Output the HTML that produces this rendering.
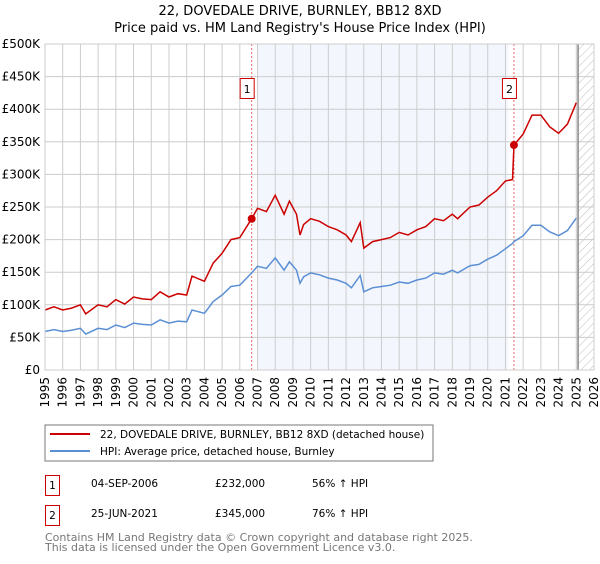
<!DOCTYPE html>
<html><head><meta charset="utf-8"><style>
body{margin:0;background:#fff;font-family:"DejaVu Sans","Liberation Sans",sans-serif;}
svg text{font-family:"DejaVu Sans","Liberation Sans",sans-serif;}
</style></head><body>
<svg id="chart" width="600" height="560" xmlns="http://www.w3.org/2000/svg">
<defs><pattern id="hatch" width="6" height="6" patternUnits="userSpaceOnUse" patternTransform="rotate(45)"><line x1="0" y1="0" x2="0" y2="6" stroke="#bbb" stroke-width="1"/></pattern></defs>
<text x="300" y="15" text-anchor="middle" font-size="13" fill="#000">22, DOVEDALE DRIVE, BURNLEY, BB12 8XD</text>
<text x="300" y="32" text-anchor="middle" font-size="13" fill="#000">Price paid vs. HM Land Registry's House Price Index (HPI)</text>
<g id="plot"></g>
<rect x="45" y="425" width="388" height="36" fill="#fff" stroke="#777"/>
<line x1="50" y1="434" x2="90" y2="434" stroke="#cc0000" stroke-width="2"/>
<text x="100" y="438" font-size="10.5">22, DOVEDALE DRIVE, BURNLEY, BB12 8XD (detached house)</text>
<line x1="50" y1="451" x2="90" y2="451" stroke="#5b8fd4" stroke-width="2"/>
<text x="100" y="455" font-size="10.5">HPI: Average price, detached house, Burnley</text>
<g>
<rect x="45.5" y="475.5" width="14" height="20" fill="#fff" stroke="#cc0000"/>
<text x="52.5" y="489" font-size="10.5" text-anchor="middle">1</text>
<text x="91" y="487" font-size="10.5">04-SEP-2006</text>
<text x="215" y="487" font-size="10.5">£232,000</text>
<text x="312" y="487" font-size="10.5">56% ↑ HPI</text></g>
<g>
<rect x="45.5" y="505.5" width="14" height="20" fill="#fff" stroke="#cc0000"/>
<text x="52.5" y="519" font-size="10.5" text-anchor="middle">2</text>
<text x="91" y="517" font-size="10.5">25-JUN-2021</text>
<text x="215" y="517" font-size="10.5">£345,000</text>
<text x="312" y="517" font-size="10.5">76% ↑ HPI</text></g>
<text x="45" y="541" font-size="11" fill="#777">Contains HM Land Registry data © Crown copyright and database right 2025.</text>
<text x="45" y="551" font-size="11" fill="#777">This data is licensed under the Open Government Licence v3.0.</text>
</svg>
<script>
const years=[1995,1995.5,1996,1996.5,1997,1997.3,1998,1998.5,1999,1999.5,2000,2000.5,2001,2001.5,2002,2002.5,2003,2003.3,2004,2004.5,2005,2005.5,2006,2006.67,2007,2007.5,2008,2008.5,2008.8,2009.2,2009.4,2009.6,2010,2010.5,2011,2011.5,2012,2012.3,2012.8,2013,2013.5,2014,2014.5,2015,2015.5,2016,2016.5,2017,2017.5,2018,2018.3,2019,2019.5,2020,2020.5,2021,2021.4,2021.48,2022,2022.5,2023,2023.5,2024,2024.5,2025];
const hpiValues=[59,62,59,61,64,55,64,62,69,65,72,70,69,77,72,75,74,92,87,105,115,128,130,149,159,156,172,153,166,153,133,143,149,146,141,138,133,126,145,120,126,128,130,135,133,138,141,149,147,153,149,160,162,170,176,186,194,197,206,222,222,212,206,214,233];
const propValues=[92,97,92,95,100,86,100,97,108,101,112,109,108,120,112,117,115,144,136,164,179,200,203,232,248,243,268,239,259,239,207,223,232,228,220,215,207,197,226,187,197,200,203,211,207,215,220,232,229,239,232,250,253,265,275,290,292,345,362,391,391,373,363,377,410];
const yTicks=[0,50,100,150,200,250,300,350,400,450,500];
const yTickLabels=["£0","£50K","£100K","£150K","£200K","£250K","£300K","£350K","£400K","£450K","£500K"];
const xTicks=[1995,1996,1997,1998,1999,2000,2001,2002,2003,2004,2005,2006,2007,2008,2009,2010,2011,2012,2013,2014,2015,2016,2017,2018,2019,2020,2021,2022,2023,2024,2025,2026];
const sales=[{label:"1",year:2006.67,value:232},{label:"2",year:2021.48,value:345}];
const X0=45,X1=594,Y0=370,Y1=44;
const x=v=>X0+(v-1995)*(X1-X0)/31;
const y=v=>Y0-v*(Y0-Y1)/500;
const NS="http://www.w3.org/2000/svg";
const g=document.getElementById('plot');
function mk(t,a,p){const e=document.createElementNS(NS,t);for(const k in a)e.setAttribute(k,a[k]);(p||g).appendChild(e);return e;}
let e=mk('rect',{x:x(2007),y:Y1,width:x(2021.15)-x(2007),height:Y0-Y1,fill:'#eef3fc',opacity:0.7});


e=mk('rect',{x:x(2025.1),y:Y1,width:X1-x(2025.1),height:Y0-Y1,fill:'url(#hatch)'});


yTicks.forEach((t,i)=>{
  e=mk('line',{x1:X0,x2:X1,y1:y(t),y2:y(t),stroke:'#ccc'});
  
  
  e=mk('text',{x:40,y:y(t)+4,'text-anchor':'end','font-size':12});
  e.textContent=yTickLabels[i];
  
  
});
xTicks.forEach(t=>{
  e=mk('line',{x1:x(t),x2:x(t),y1:Y1,y2:Y0,stroke:'#ccc'});
  
  
  e=mk('text',{x:0,y:0,'text-anchor':'end','font-size':12,transform:`translate(${x(t)+4},${Y0+7}) rotate(-90)`});
  e.textContent=t;
  
  
});
e=mk('line',{x1:x(2025.1),x2:x(2025.1),y1:Y1,y2:Y0,stroke:'#888','stroke-width':1.5});


sales.forEach(s=>{
  e=mk('line',{x1:x(s.year),x2:x(s.year),y1:Y1,y2:Y0,stroke:'#e66','stroke-dasharray':'2,2'});
  
  
});
const pts=v=>years.map((yr,i)=>x(yr).toFixed(1)+','+y(v[i]).toFixed(1)).join(' ');
e=mk('polyline',{points:pts(hpiValues),fill:'none',stroke:'#5b8fd4','stroke-width':1.5});


e=mk('polyline',{points:pts(propValues),fill:'none',stroke:'#cc0000','stroke-width':1.5});


sales.forEach(s=>{
  e=mk('circle',{cx:x(s.year),cy:y(s.value),r:4,fill:'#cc0000'});
  
  
  e=mk('rect',{x:x(s.year)-11.5,y:78.5,width:14,height:20,fill:'#fff',stroke:'#cc0000'});
  
  
  e=mk('text',{x:x(s.year)-4.5,y:93,'text-anchor':'middle','font-size':11});
  e.textContent=s.label;
  
  
});
e=mk('rect',{x:X0,y:Y1,width:X1-X0,height:Y0-Y1,fill:'none',stroke:'#ccc'});


</script>
</body></html>
